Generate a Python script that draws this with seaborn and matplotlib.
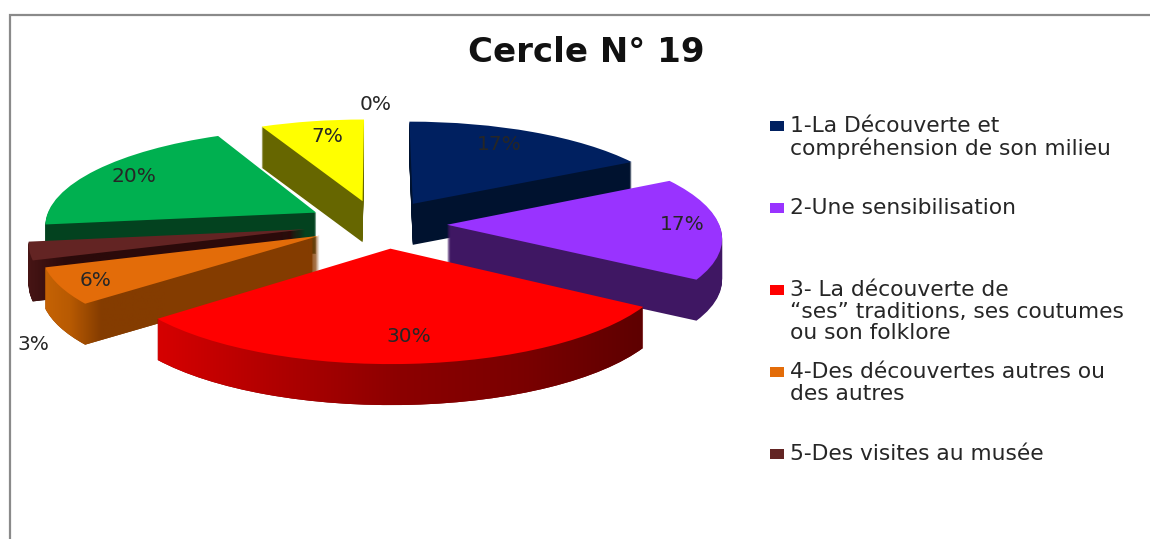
import matplotlib
matplotlib.use("Agg")
import matplotlib.patches as mpatches
import matplotlib.transforms as mtransforms
import numpy as np
import seaborn as sns
from matplotlib import pyplot as plt
from matplotlib.colors import LinearSegmentedColormap
from matplotlib.path import Path

TITLE = "Cercle N° 19"
values = [17, 17, 30, 6, 3, 20, 7, 0]
top_colors = ["#002060", "#9933ff", "#ff0000", "#e36c09", "#632423", "#00b050", "#ffff00", "#ffffff"]
side_colors = ["#00122f", "#3f1763", "#800000", "#843c00", "#2b0a0a", "#03421f", "#666600", "#ffffff"]
legend_labels = [
    "1-La Découverte et\ncompréhension de son milieu",
    "2-Une sensibilisation",
    "3- La découverte de\n“ses” traditions, ses coutumes\nou son folklore",
    "4-Des découvertes autres ou\ndes autres",
    "5-Des visites au musée",
]
# painter's order of the slices, back to front
draw_order = [6, 0, 5, 1, 4, 3, 2, 7]
# where the percentages sit, in pixels
label_xy = [(499, 144), (682, 225), (409, 336), (96, 281), (33, 344), (134, 177), (327, 137), (376, 105)]
# small sideways nudge per slice, the original view is slightly turned
nudge_x = [4, 4, 11, 5, -3, 0, 2, 0]

sns.set_theme(style="white")
plt.rcParams["font.family"] = ["DejaVu Sans"]

CX, CY = 375.0, 224.0
RX, RY, PERSP = 272.0, 96.0, 0.115
DEPTH = 41
EXPLODE = 0.25
TEXT_COLOR = "#262626"


class Projection(mtransforms.Transform):
    """Ground plane of the pie to pixels, nearer means bigger."""

    input_dims = 2
    output_dims = 2
    is_separable = False
    has_inverse = False

    def __init__(self, z=0.0, dx=0.0):
        super().__init__()
        self.z = z
        self.dx = dx

    def transform_non_affine(self, values):
        values = np.asarray(values, dtype=float)
        w = 1.0 + PERSP * values[:, 1]
        return np.column_stack(
            [CX + self.dx + RX * values[:, 0] / w, CY - RY * values[:, 1] / w + self.z]
        )


def draw_layer(ax, colors, z, base_zorder):
    wedges, _ = ax.pie(
        values,
        colors=colors,
        explode=[EXPLODE] * len(values),
        startangle=90,
        counterclock=False,
        wedgeprops={"linewidth": 0, "antialiased": True},
    )
    for i, w in enumerate(wedges):
        w.set_transform(Projection(z, nudge_x[i]) + ax.transData)
        w.set_zorder(draw_order.index(i) * 10 + base_zorder)
    return wedges


def shade_side(ax, layers, idx, stops, x0, x1):
    # left-to-right shading of one slice's wall, clipped to that wall
    paths = [ws[idx].get_path().transformed(Projection(z, nudge_x[idx])) for z, ws in layers]
    clip = Path.make_compound_path(*paths)
    cmap = LinearSegmentedColormap.from_list("side", stops)
    im = ax.imshow(
        np.linspace(0, 1, 256)[None, :],
        cmap=cmap,
        extent=(x0, x1, 450, 100),
        aspect="auto",
        zorder=draw_order.index(idx) * 10 + 5,
        interpolation="bilinear",
    )
    im.set_clip_path(clip, ax.transData)


fig = plt.figure(figsize=[11.5, 5.39], dpi=100)
ax = fig.add_axes([0, 0, 1, 1])

layers = []
for z in range(1, DEPTH + 1):
    layers.append((z, draw_layer(ax, side_colors, z, 1)))
draw_layer(ax, top_colors, 0, 8)

shade_side(ax, layers, 2, ["#d80000", "#b00000", "#8c0000", "#7a0000", "#5c0000"], 150, 650)
shade_side(ax, layers, 3, ["#c96505", "#b85a02", "#843c00", "#843c00", "#843c00"], 38, 165)
shade_side(ax, layers, 4, ["#4a1616", "#2b0a0a", "#2b0a0a"], 24, 110)

ax.set_aspect("auto")
ax.set_xlim(0, 1150)
ax.set_ylim(539, 0)
ax.set_frame_on(False)
ax.set_xticks([])
ax.set_yticks([])

for v, (x, y) in zip(values, label_xy):
    ax.text(x, y, f"{v}%", ha="center", va="center", fontsize=14.5, color=TEXT_COLOR, zorder=200)

ax.text(586, 52, TITLE, ha="center", va="center", fontsize=24.5, fontweight="bold", color="#111111")

# legend
for i, label in enumerate(legend_labels):
    y = 126 + 82 * i
    ax.add_patch(
        mpatches.Rectangle((770, y - 5), 14, 10, facecolor=top_colors[i], edgecolor="none", zorder=200)
    )
    ax.text(
        790, y - 10, label, ha="left", va="top", fontsize=15.7, color=TEXT_COLOR, linespacing=1.1, zorder=200
    )

# chart frame
ax.plot([10, 10, 1150], [539, 15, 15], color="#8a8a8a", lw=1.6, zorder=1, solid_joinstyle="miter")

fig.savefig("out.png", dpi=100)
